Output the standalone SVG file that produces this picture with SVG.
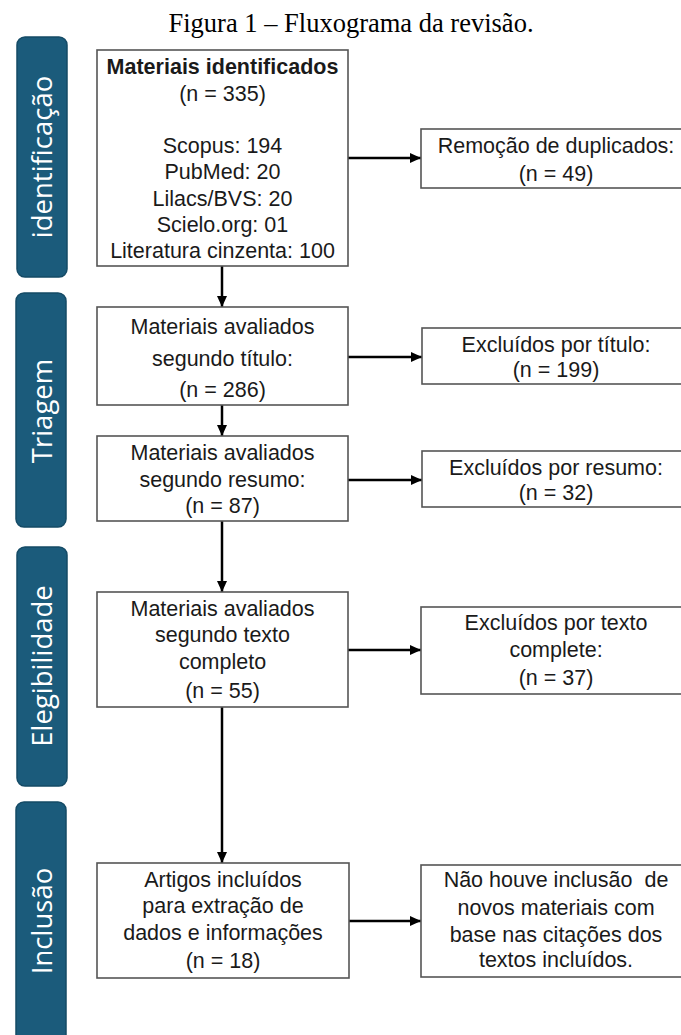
<svg xmlns="http://www.w3.org/2000/svg" width="681" height="1035" viewBox="0 0 681 1035">
<style>
.bg{fill:#ffffff}
.bar{fill:#1b5b7b;stroke:#154b66;stroke-width:1.5}
.bl{font-family:"Open Sans","Liberation Sans",sans-serif;font-size:27.5px;fill:#ffffff;text-anchor:middle}
.box{fill:#ffffff;stroke:#555555;stroke-width:1.6}
.t{font-family:"Liberation Sans",Arial,sans-serif;font-size:21.5px;fill:#1a1a1a;text-anchor:middle}
.b{font-weight:bold}
.title{font-family:"Liberation Serif","Times New Roman",serif;font-size:26.5px;fill:#000000;text-anchor:middle}
.c{stroke:#000000;stroke-width:2.5;fill:none;marker-end:url(#ah)}
</style>
<defs>
<marker id="ah" markerUnits="userSpaceOnUse" markerWidth="12" markerHeight="12" viewBox="0 0 12 12" refX="11" refY="6" orient="auto">
<path d="M0,1 L11,6 L0,11 Z" fill="#000000"/>
</marker>
</defs>
<rect class="bg" x="0" y="0" width="681" height="1035"/>
<text class="title" x="351" y="32">Figura 1 – Fluxograma da revisão.</text>

<g id="stage-identificacao">
<rect class="bar" x="17" y="37" width="50" height="240" rx="8"/>
<text class="bl" transform="translate(52,157) rotate(-90)">identificação</text>
</g>
<g id="stage-triagem">
<rect class="bar" x="16" y="293" width="50" height="234" rx="8"/>
<text class="bl" transform="translate(52,411) rotate(-90)">Triagem</text>
</g>
<g id="stage-elegibilidade">
<rect class="bar" x="17" y="547" width="50" height="239" rx="8"/>
<text class="bl" transform="translate(52,666) rotate(-90)">Elegibilidade</text>
</g>
<g id="stage-inclusao">
<rect class="bar" x="16" y="802" width="50" height="250" rx="8"/>
<text class="bl" transform="translate(52,921) rotate(-90)">Inclusão</text>
</g>

<g id="connectors">
<line class="c" x1="222" y1="266" x2="222" y2="307"/>
<line class="c" x1="222" y1="405" x2="222" y2="436"/>
<line class="c" x1="222" y1="521" x2="222" y2="592"/>
<line class="c" x1="222" y1="707" x2="222" y2="863"/>
<line class="c" x1="348" y1="158" x2="421" y2="158"/>
<line class="c" x1="348" y1="357" x2="422" y2="357"/>
<line class="c" x1="348" y1="480" x2="422" y2="480"/>
<line class="c" x1="348" y1="650" x2="421" y2="650"/>
<line class="c" x1="349" y1="921" x2="421" y2="921"/>
</g>

<g id="identificados">
<rect class="box" x="97" y="50" width="251" height="216"/>
<text class="t b" x="222.5" y="74">Materiais identificados</text>
<text class="t" x="222.5" y="101">(n = 335)</text>
<text class="t" x="222.5" y="153">Scopus: 194</text>
<text class="t" x="222.5" y="179">PubMed: 20</text>
<text class="t" x="222.5" y="206">Lilacs/BVS: 20</text>
<text class="t" x="222.5" y="232">Scielo.org: 01</text>
<text class="t" x="222.5" y="258">Literatura cinzenta: 100</text>
</g>
<g id="duplicados">
<rect class="box" x="421" y="129" width="269" height="59"/>
<text class="t" x="556" y="153">Remoção de duplicados:</text>
<text class="t" x="556" y="181">(n = 49)</text>
</g>
<g id="titulo">
<rect class="box" x="97" y="307" width="251" height="98"/>
<text class="t" x="222.5" y="334">Materiais avaliados</text>
<text class="t" x="222.5" y="366">segundo título:</text>
<text class="t" x="222.5" y="397">(n = 286)</text>
</g>
<g id="excl-titulo">
<rect class="box" x="422" y="328" width="268" height="56"/>
<text class="t" x="556" y="352">Excluídos por título:</text>
<text class="t" x="556" y="377">(n = 199)</text>
</g>
<g id="resumo">
<rect class="box" x="97" y="436" width="251" height="85"/>
<text class="t" x="222.5" y="460">Materiais avaliados</text>
<text class="t" x="222.5" y="487">segundo resumo:</text>
<text class="t" x="222.5" y="513">(n = 87)</text>
</g>
<g id="excl-resumo">
<rect class="box" x="422" y="451" width="268" height="56"/>
<text class="t" x="556" y="475">Excluídos por resumo:</text>
<text class="t" x="556" y="500">(n = 32)</text>
</g>
<g id="texto">
<rect class="box" x="97" y="592" width="251" height="115"/>
<text class="t" x="222.5" y="616">Materiais avaliados</text>
<text class="t" x="222.5" y="642">segundo texto</text>
<text class="t" x="222.5" y="669">completo</text>
<text class="t" x="222.5" y="698">(n = 55)</text>
</g>
<g id="excl-texto">
<rect class="box" x="421" y="607" width="269" height="87"/>
<text class="t" x="556" y="630">Excluídos por texto</text>
<text class="t" x="556" y="657">complete:</text>
<text class="t" x="556" y="685">(n = 37)</text>
</g>
<g id="incluidos">
<rect class="box" x="97" y="863" width="252" height="115"/>
<text class="t" x="223" y="887">Artigos incluídos</text>
<text class="t" x="223" y="913">para extração de</text>
<text class="t" x="223" y="940">dados e informações</text>
<text class="t" x="223" y="968">(n = 18)</text>
</g>
<g id="sem-inclusao">
<rect class="box" x="421" y="865" width="269" height="112"/>
<text class="t" x="556" y="887" xml:space="preserve">Não houve inclusão  de</text>
<text class="t" x="556" y="915">novos materiais com</text>
<text class="t" x="556" y="942">base nas citações dos</text>
<text class="t" x="556" y="967">textos incluídos.</text>
</g>
</svg>
